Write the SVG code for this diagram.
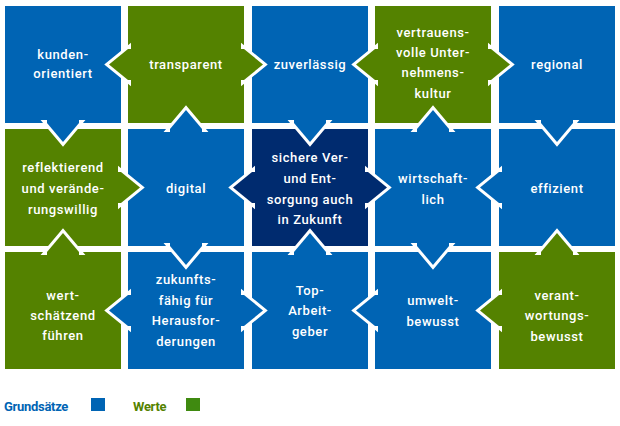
<svg xmlns="http://www.w3.org/2000/svg" width="620" height="426" viewBox="0 0 620 426">
<style>
.b{fill:#0064b4}.g{fill:#548200}.d{fill:#002b6f}
.t{font-family:Roboto,"Liberation Sans",sans-serif;font-size:13px;font-weight:500;fill:#fff;text-anchor:middle;letter-spacing:0.6px}
.o{stroke:#fff;stroke-width:6;stroke-linejoin:miter}
.l{font-family:Roboto,"Liberation Sans",sans-serif;font-size:13px;font-weight:700;letter-spacing:-0.3px}
</style>
<rect width="620" height="426" fill="#fff"/>
<g id="tiles">
<g id="n1"><rect class="b" x="5" y="6" width="116" height="117"/></g>
<g id="n2"><rect class="g" x="128" y="6" width="116" height="117"/></g>
<g id="n3"><rect class="b" x="252" y="6" width="116" height="117"/></g>
<g id="n4"><rect class="g" x="375" y="6" width="116" height="117"/></g>
<g id="n5"><rect class="b" x="499" y="6" width="116" height="117"/></g>
<g id="n6"><rect class="g" x="5" y="129" width="116" height="117"/></g>
<g id="n7"><rect class="b" x="128" y="129" width="116" height="117"/></g>
<g id="n8"><rect class="d" x="252" y="129" width="116" height="117"/></g>
<g id="n9"><rect class="b" x="375" y="129" width="116" height="117"/></g>
<g id="n10"><rect class="b" x="499" y="129" width="116" height="117"/></g>
<g id="n11"><rect class="g" x="5" y="252" width="116" height="117"/></g>
<g id="n12"><rect class="b" x="128" y="252" width="116" height="117"/></g>
<g id="n13"><rect class="b" x="252" y="252" width="116" height="117"/></g>
<g id="n14"><rect class="b" x="375" y="252" width="116" height="117"/></g>
<g id="n15"><rect class="g" x="499" y="252" width="116" height="117"/></g>
</g>
<g id="tabs">
<!-- horizontal tabs: left -->
<polygon class="g o" points="128,49 109,64.5 128,80"/><polygon class="g" points="132,49 128,49 109,64.5 128,80 132,80"/>
<polygon class="g o" points="244,49 263,64.5 244,80"/><polygon class="g" points="240,49 244,49 263,64.5 244,80 240,80"/>
<polygon class="g o" points="375,49 356,64.5 375,80"/><polygon class="g" points="379,49 375,49 356,64.5 375,80 379,80"/>
<polygon class="g o" points="491,49 510,64.5 491,80"/><polygon class="g" points="487,49 491,49 510,64.5 491,80 487,80"/>
<polygon class="g o" points="121,172 140,187.5 121,203"/><polygon class="g" points="117,172 121,172 140,187.5 121,203 117,203"/>
<polygon class="d o" points="252,172 233,187.5 252,203"/><polygon class="d" points="256,172 252,172 233,187.5 252,203 256,203"/>
<polygon class="d o" points="368,172 387,187.5 368,203"/><polygon class="d" points="364,172 368,172 387,187.5 368,203 364,203"/>
<polygon class="b o" points="499,172 480,187.5 499,203"/><polygon class="b" points="503,172 499,172 480,187.5 499,203 503,203"/>
<polygon class="b o" points="128,295 109,310.5 128,326"/><polygon class="b" points="132,295 128,295 109,310.5 128,326 132,326"/>
<polygon class="b o" points="244,295 263,310.5 244,326"/><polygon class="b" points="240,295 244,295 263,310.5 244,326 240,326"/>
<polygon class="b o" points="375,295 356,310.5 375,326"/><polygon class="b" points="379,295 375,295 356,310.5 375,326 379,326"/>
<polygon class="g o" points="499,295 480,310.5 499,326"/><polygon class="g" points="503,295 499,295 480,310.5 499,326 503,326"/>
<!-- vertical tabs -->
<polygon class="b o" points="47,123 63,142 79,123"/><polygon class="b" points="47,119 47,123 63,142 79,123 79,119"/>
<polygon class="g o" points="47,252 63,233 79,252"/><polygon class="g" points="47,256 47,252 63,233 79,252 79,256"/>
<polygon class="b o" points="170,129 186,110 202,129"/><polygon class="b" points="170,133 170,129 186,110 202,129 202,133"/>
<polygon class="b o" points="170,246 186,265 202,246"/><polygon class="b" points="170,242 170,246 186,265 202,246 202,242"/>
<polygon class="b o" points="294,123 310,142 326,123"/><polygon class="b" points="294,119 294,123 310,142 326,123 326,119"/>
<polygon class="b o" points="294,252 310,233 326,252"/><polygon class="b" points="294,256 294,252 310,233 326,252 326,256"/>
<polygon class="b o" points="417,129 433,110 449,129"/><polygon class="b" points="417,133 417,129 433,110 449,129 449,133"/>
<polygon class="b o" points="417,246 433,265 449,246"/><polygon class="b" points="417,242 417,246 433,265 449,246 449,242"/>
<polygon class="b o" points="541,123 557,142 573,123"/><polygon class="b" points="541,119 541,123 557,142 573,123 573,119"/>
<polygon class="g o" points="541,252 557,233 573,252"/><polygon class="g" points="541,256 541,252 557,233 573,252 573,256"/>
</g>
<g id="labels">
<text class="t" x="63" y="59">kunden-</text><text class="t" x="63" y="78">orientiert</text>
<text class="t" x="186" y="69">transparent</text>
<text class="t" x="310" y="69">zuverlässig</text>
<text class="t" x="433" y="37">vertrauens-</text><text class="t" x="433" y="57">volle Unter-</text><text class="t" x="433" y="77">nehmens-</text><text class="t" x="433" y="98">kultur</text>
<text class="t" x="557" y="69">regional</text>
<text class="t" x="63" y="172">reflektierend</text><text class="t" x="63" y="193">und verände-</text><text class="t" x="63" y="214">rungswillig</text>
<text class="t" x="186" y="193">digital</text>
<text class="t" x="310" y="162">sichere Ver-</text><text class="t" x="310" y="183">und Ent-</text><text class="t" x="310" y="204">sorgung auch</text><text class="t" x="310" y="224">in Zukunft</text>
<text class="t" x="433" y="183">wirtschaft-</text><text class="t" x="433" y="204">lich</text>
<text class="t" x="557" y="193">effizient</text>
<text class="t" x="63" y="300">wert-</text><text class="t" x="63" y="320">schätzend</text><text class="t" x="63" y="340">führen</text>
<text class="t" x="186" y="284">zukunfts-</text><text class="t" x="186" y="305">fähig für</text><text class="t" x="186" y="325">Herausfor-</text><text class="t" x="186" y="346">derungen</text>
<text class="t" x="310" y="295">Top-</text><text class="t" x="310" y="315">Arbeit-</text><text class="t" x="310" y="336">geber</text>
<text class="t" x="433" y="305">umwelt-</text><text class="t" x="433" y="326">bewusst</text>
<text class="t" x="557" y="300">verant-</text><text class="t" x="557" y="320">wortungs-</text><text class="t" x="557" y="341">bewusst</text>
</g>
<g id="legend">
<text class="l" x="4" y="411" fill="#0064b4">Grundsätze</text>
<rect x="91" y="398" width="14" height="13" fill="#0064b4"/>
<text class="l" x="133" y="411" fill="#548200">Werte</text>
<rect x="186" y="398" width="14" height="13" fill="#3f8a10"/>
</g>
</svg>
